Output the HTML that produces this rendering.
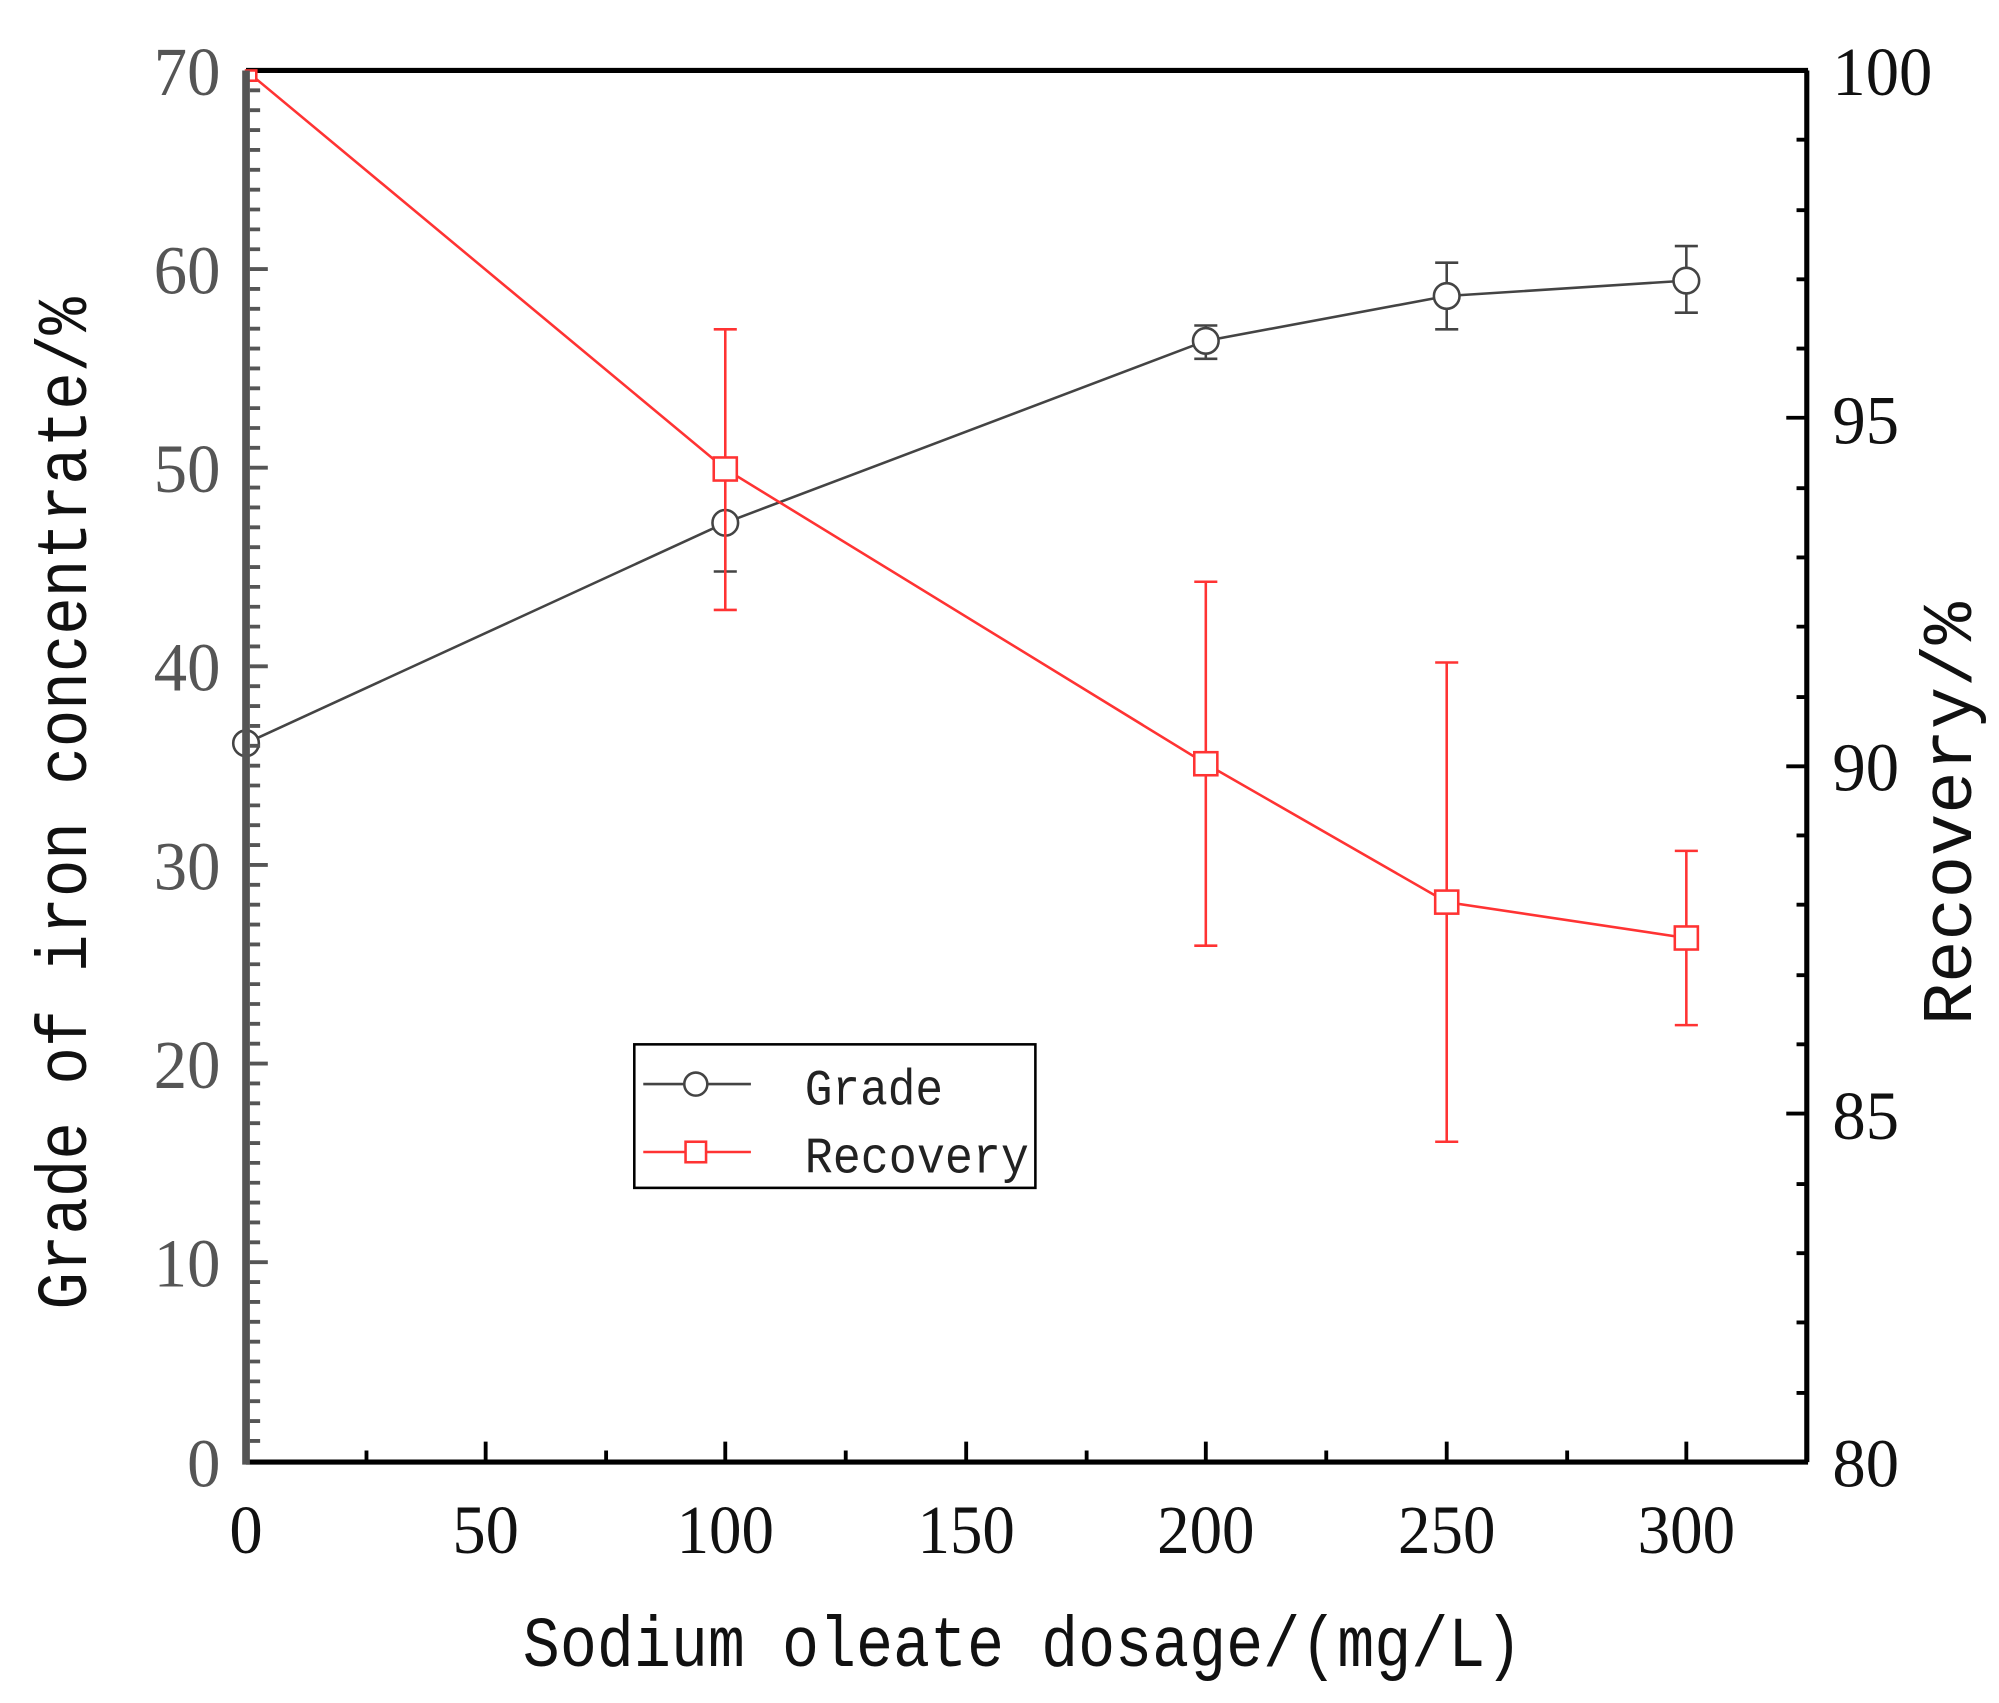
<!DOCTYPE html>
<html><head><meta charset="utf-8"><style>html,body{margin:0;padding:0;background:#fff}svg{display:block}</style></head>
<body>
<svg width="1999" height="1703" viewBox="0 0 1560 1329" preserveAspectRatio="none" xmlns="http://www.w3.org/2000/svg">
<rect width="1560" height="1329" fill="#fff"/>
<line x1="192" y1="55" x2="1411" y2="55" stroke="#000" stroke-width="4"/>
<line x1="1410" y1="55" x2="1410" y2="1141" stroke="#000" stroke-width="4"/>
<line x1="192" y1="1141" x2="1411" y2="1141" stroke="#000" stroke-width="4"/>
<!-- Grade series -->
<g stroke="#444" stroke-width="2" fill="none">
<polyline points="192,580 566,408 941,266 1129,231 1316,219"/>
<line x1="566" y1="408" x2="566" y2="446"/><line x1="557" y1="446" x2="575" y2="446"/>
<line x1="941" y1="254" x2="941" y2="280"/><line x1="932" y1="254" x2="950" y2="254"/><line x1="932" y1="280" x2="950" y2="280"/>
<line x1="1129" y1="205" x2="1129" y2="257"/><line x1="1120" y1="205" x2="1138" y2="205"/><line x1="1120" y1="257" x2="1138" y2="257"/>
<line x1="1316" y1="192" x2="1316" y2="244"/><line x1="1307" y1="192" x2="1325" y2="192"/><line x1="1307" y1="244" x2="1325" y2="244"/>
<g fill="#fff"><circle cx="566" cy="408" r="10"/><circle cx="941" cy="266" r="10"/><circle cx="1129" cy="231" r="10"/><circle cx="1316" cy="219" r="10"/><circle cx="192" cy="580" r="10"/></g>
</g>
<!-- Recovery series -->
<g stroke="#f33" stroke-width="2" fill="none">
<polyline points="192,55 566,366 941,596 1129,704 1316,732"/>
<line x1="566" y1="257" x2="566" y2="476"/><line x1="557" y1="257" x2="575" y2="257"/><line x1="557" y1="476" x2="575" y2="476"/>
<line x1="941" y1="454" x2="941" y2="738"/><line x1="932" y1="454" x2="950" y2="454"/><line x1="932" y1="738" x2="950" y2="738"/>
<line x1="1129" y1="517" x2="1129" y2="891"/><line x1="1120" y1="517" x2="1138" y2="517"/><line x1="1120" y1="891" x2="1138" y2="891"/>
<line x1="1316" y1="664" x2="1316" y2="800"/><line x1="1307" y1="664" x2="1325" y2="664"/><line x1="1307" y1="800" x2="1325" y2="800"/>
<g fill="#fff"><rect x="557" y="357" width="18" height="18"/><rect x="932" y="587" width="18" height="18"/><rect x="1120" y="695" width="18" height="18"/><rect x="1307" y="723" width="18" height="18"/><rect x="192" y="55" width="8" height="8"/></g>
</g>
<line x1="192" y1="55" x2="192" y2="1143" stroke="#555" stroke-width="6"/>
<!-- Legend -->
<rect x="495" y="815" width="313" height="112" fill="#fff" stroke="#000" stroke-width="2"/>
<line x1="502" y1="846" x2="586" y2="846" stroke="#444" stroke-width="2"/>
<circle cx="543" cy="846" r="9" fill="#fff" stroke="#444" stroke-width="2"/>
<line x1="502" y1="899" x2="586" y2="899" stroke="#f33" stroke-width="2"/>
<rect x="535" y="891" width="16" height="16" fill="#fff" stroke="#f33" stroke-width="2"/>
<g font-family="Liberation Mono, monospace" font-size="40" fill="#222">
<text x="628" y="862" textLength="108" lengthAdjust="spacingAndGlyphs">Grade</text>
<text x="628" y="915" textLength="175" lengthAdjust="spacingAndGlyphs">Recovery</text>
</g>
<!-- tick labels -->
<g font-family="Liberation Serif, serif" font-size="54" fill="#555" text-anchor="end">
<text x="172" y="74" textLength="52" lengthAdjust="spacingAndGlyphs">70</text>
<text x="172" y="229" textLength="52" lengthAdjust="spacingAndGlyphs">60</text>
<text x="172" y="384" textLength="52" lengthAdjust="spacingAndGlyphs">50</text>
<text x="172" y="539" textLength="52" lengthAdjust="spacingAndGlyphs">40</text>
<text x="172" y="694" textLength="52" lengthAdjust="spacingAndGlyphs">30</text>
<text x="172" y="849" textLength="52" lengthAdjust="spacingAndGlyphs">20</text>
<text x="172" y="1004" textLength="52" lengthAdjust="spacingAndGlyphs">10</text>
<text x="172" y="1160" textLength="26" lengthAdjust="spacingAndGlyphs">0</text>
</g>
<g font-family="Liberation Serif, serif" font-size="54" fill="#111">
<text x="1430" y="74" textLength="78" lengthAdjust="spacingAndGlyphs">100</text>
<text x="1430" y="346" textLength="52" lengthAdjust="spacingAndGlyphs">95</text>
<text x="1430" y="617" textLength="52" lengthAdjust="spacingAndGlyphs">90</text>
<text x="1430" y="889" textLength="52" lengthAdjust="spacingAndGlyphs">85</text>
<text x="1430" y="1160" textLength="52" lengthAdjust="spacingAndGlyphs">80</text>
</g>
<g font-family="Liberation Serif, serif" font-size="54" fill="#111" text-anchor="middle">
<text x="192" y="1212" textLength="26" lengthAdjust="spacingAndGlyphs">0</text>
<text x="379" y="1212" textLength="52" lengthAdjust="spacingAndGlyphs">50</text>
<text x="566" y="1212" textLength="76" lengthAdjust="spacingAndGlyphs">100</text>
<text x="754" y="1212" textLength="76" lengthAdjust="spacingAndGlyphs">150</text>
<text x="941" y="1212" textLength="76" lengthAdjust="spacingAndGlyphs">200</text>
<text x="1129" y="1212" textLength="76" lengthAdjust="spacingAndGlyphs">250</text>
<text x="1316" y="1212" textLength="76" lengthAdjust="spacingAndGlyphs">300</text>
</g>
<!-- axis titles -->
<g font-family="Liberation Mono, monospace" font-size="56" fill="#111">
<text x="408" y="1300" textLength="780" lengthAdjust="spacingAndGlyphs">Sodium oleate dosage/(mg/L)</text>
<text transform="translate(67,1022) rotate(-90)" textLength="790" lengthAdjust="spacingAndGlyphs">Grade of iron concentrate/%</text>
<text transform="translate(1538,800) rotate(-90)" textLength="330" lengthAdjust="spacingAndGlyphs">Recovery/%</text>
</g>
<path stroke="#555" stroke-width="3" d="
M195,70.5h8M195,86h8M195,101.5h8M195,117h8M195,132.5h8M195,148h8M195,163.5h8M195,179h8M195,194.5h8M195,210h8
M195,225.5h8M195,241h8M195,256.5h8M195,272h8M195,287.5h8M195,303h8M195,318.5h8M195,334h8M195,349.5h8M195,365h8
M195,380.5h8M195,396h8M195,411.5h8M195,427h8M195,442.5h8M195,458h8M195,473.5h8M195,489h8M195,504.5h8M195,520h8
M195,535.5h8M195,551h8M195,566.5h8M195,582h8M195,597.5h8M195,613h8M195,628.5h8M195,644h8M195,659.5h8M195,675h8
M195,690.5h8M195,706h8M195,721.5h8M195,737h8M195,752.5h8M195,768h8M195,783.5h8M195,799h8M195,814.5h8M195,830h8
M195,845.5h8M195,861h8M195,876.5h8M195,892h8M195,907.5h8M195,923h8M195,938.5h8M195,954h8M195,969.5h8M195,985h8
M195,1000.5h8M195,1016h8M195,1031.5h8M195,1047h8M195,1062.5h8M195,1078h8M195,1093.5h8M195,1109h8M195,1124.5h8
M195,210h14M195,365h14M195,520h14M195,675h14M195,830h14M195,985h14"/>
<path stroke="#000" stroke-width="3" d="
M1410,55h-16M1410,326h-16M1410,598h-16M1410,869h-16
M1410,109h-8M1410,164h-8M1410,218h-8M1410,272h-8M1410,381h-8M1410,435h-8M1410,489h-8M1410,544h-8
M1410,652h-8M1410,706h-8M1410,761h-8M1410,815h-8M1410,924h-8M1410,978h-8M1410,1032h-8M1410,1087h-8
M379,1141v-16M566,1141v-16M754,1141v-16M941,1141v-16M1129,1141v-16M1316,1141v-16
M286,1141v-9M473,1141v-9M660,1141v-9M848,1141v-9M1035,1141v-9M1223,1141v-9"/>
</svg>
</body></html>
